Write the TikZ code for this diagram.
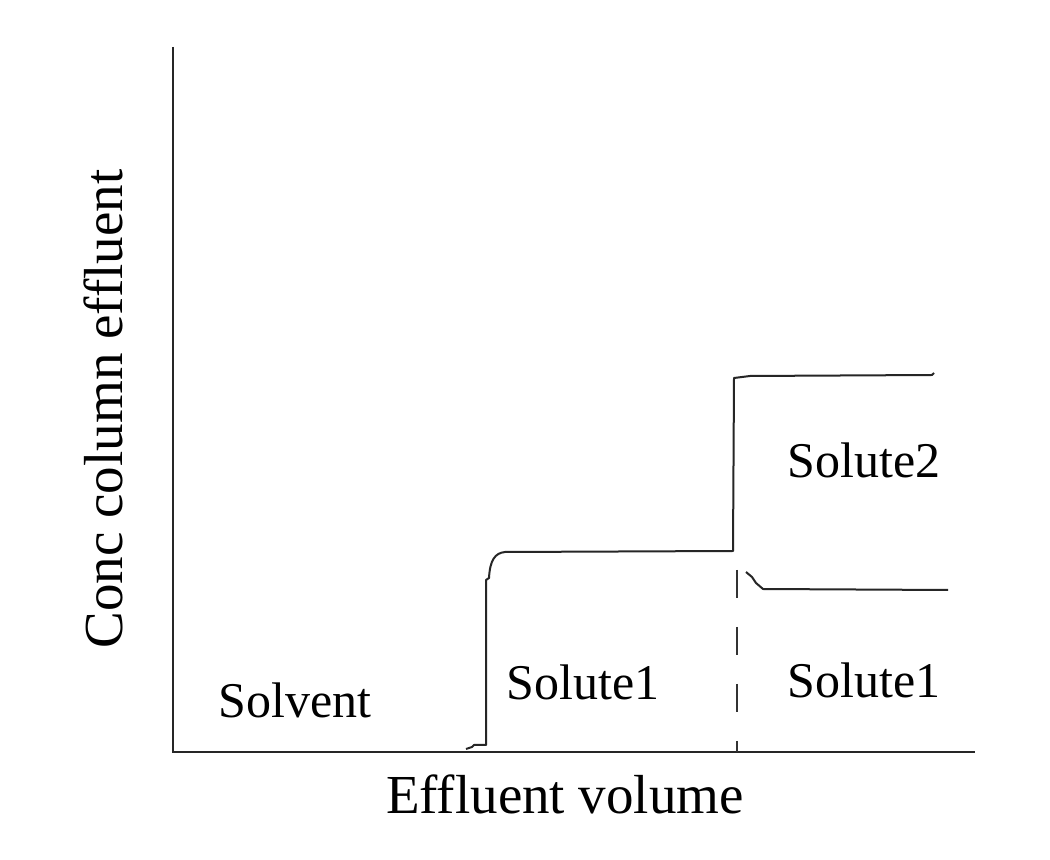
\documentclass[tikz,border=0pt]{standalone}
\usepackage{fontspec}
\setmainfont{Liberation Serif}
\begin{document}
\begin{tikzpicture}[x=0.5pt,y=-0.5pt,
  axis/.style={line width=1.2pt,black!85},
  curve/.style={line width=1pt,black!85,line join=round},
  guide/.style={line width=1.3pt,black!80,dash pattern=on 14pt off 14.5pt},
  region/.style={font=\fontsize{25}{30}\selectfont,anchor=base,inner sep=0pt},
  axlabel/.style={font=\fontsize{27.5}{33}\selectfont,anchor=base,inner sep=0pt}]
\useasboundingbox[fill=white] (0,0) rectangle (1050,860);
% axes
\coordinate (O) at (173,752);
\coordinate (ytop) at (173,47);
\coordinate (xend) at (975,752);
\draw[axis] (ytop) -- (O) -- (xend);
% breakthrough curve
\draw[curve] (466,749) -- (472,747) -- (474,745) -- (486,745) -- (486,580)
  -- (489,578) .. controls (490,560) and (495,553) .. (505,552) -- (733,551)
  -- (734,378) -- (750,376) -- (932,375) -- (934,373);
% lower curve (solute 1 after displacement)
\draw[curve] (746,572) -- (752,577) -- (756,583) -- (763,589) -- (948,590);
% dashed separator
\coordinate (dtop) at (737,570);
\coordinate (dbot) at (737,752);
\draw[guide] (dtop) -- (dbot);
% labels
\node[region] (solvent) at (295,718) {Solvent};
\node[region] (s1a) at (583,700) {Solute1};
\node[region] (s1b) at (864,698) {Solute1};
\node[region] (s2) at (864,478) {Solute2};
\node[axlabel] (xl) at (565,813) {Effluent volume};
\node[axlabel,rotate=90] (yl) at (122,409) {Conc column effluent};
\end{tikzpicture}
\end{document}
